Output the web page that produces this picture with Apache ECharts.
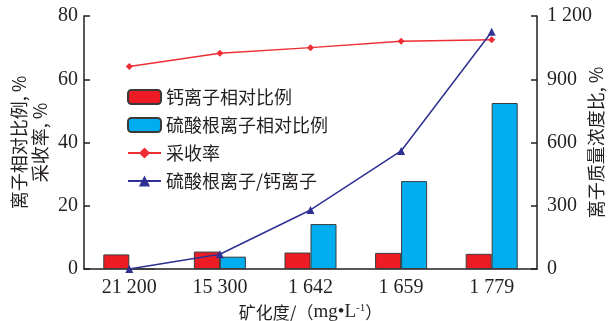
<!DOCTYPE html>
<html>
<head>
<meta charset="utf-8">
<script src="https://cdn.jsdelivr.net/npm/echarts@6/dist/echarts.min.js"></script>
<style>
  html, body { margin: 0; padding: 0; background: #fff; }
  #chart { width: 612px; height: 321px; }
</style>
</head>
<body>
<div id="chart"></div>
<script>
// Salinity categories (mg/L)
const categories = ['21 200', '15 300', '1 642', '1 659', '1 779'];
// Relative proportion of calcium ions, %
const calciumRatio = [4.6, 5.5, 5.2, 5.1, 4.8];
// Relative proportion of sulfate ions, %
const sulfateRatio = [0, 3.9, 14.2, 27.8, 52.5];
// Recovery factor, %
const recovery = [64.0, 68.2, 70.0, 72.0, 72.5];
// Sulfate / calcium mass concentration ratio, %
const sulfateToCalcium = [0, 70, 280, 560, 1125];

const leftTicks = { min: 0, max: 80, interval: 20 };
const rightTicks = { min: 0, max: 1200, interval: 300 };

const serif = '"Liberation Serif", "DejaVu Serif", serif';
const cjk = '"Noto Sans CJK SC", sans-serif';
const axisColor = '#231f20';
const textColor = '#231f20';

function spaced(v) {
  return String(v).replace(/\B(?=(\d{3})+(?!\d))/g, ' ');
}

const chart = echarts.init(document.getElementById('chart'), null, { renderer: 'canvas' });

chart.setOption({
  animation: false,
  backgroundColor: '#fff',
  grid: { left: 84, right: 75, top: 16, bottom: 52, containLabel: false, outerBoundsMode: 'none' },
  legend: {
    orient: 'vertical',
    left: 122,
    top: 83,
    itemWidth: 33,
    itemHeight: 14,
    itemGap: 10,
    textStyle: { fontFamily: cjk, fontSize: 18, color: textColor },
    data: ['钙离子相对比例', '硫酸根离子相对比例', '采收率', '硫酸根离子/钙离子']
  },
  xAxis: {
    type: 'category',
    data: categories,
    boundaryGap: true,
    axisLine: { lineStyle: { color: axisColor, width: 1.5 } },
    axisTick: { inside: true, length: 8, lineStyle: { color: axisColor, width: 1.5 } },
    axisLabel: { fontFamily: serif, fontSize: 20, color: textColor, margin: 9 },
    name: '{a|矿化度/（}{b|mg•L}{s|-1}{a|）}',
    nameLocation: 'middle',
    nameGap: 33,
    nameTextStyle: {
      rich: {
        a: { fontFamily: cjk, fontSize: 17, color: textColor },
        b: { fontFamily: serif, fontSize: 19, color: textColor },
        s: { fontFamily: serif, fontSize: 11, color: textColor, verticalAlign: 'top', padding: [0, 0, 8, 0] }
      }
    }
  },
  yAxis: [
    {
      type: 'value',
      min: leftTicks.min,
      max: leftTicks.max,
      interval: leftTicks.interval,
      splitLine: { show: false },
      axisLine: { show: true, lineStyle: { color: axisColor, width: 1.5 } },
      axisTick: { show: true, inside: true, length: 6, lineStyle: { color: axisColor, width: 1.5 } },
      axisLabel: { fontFamily: serif, fontSize: 20, color: textColor, margin: 6 },
      name: '离子相对比例, %\n采收率, %',
      nameLocation: 'middle',
      nameRotate: 90,
      nameGap: 33,
      nameMoveOverlap: false,
      nameTextStyle: { fontFamily: cjk, fontSize: 18, color: textColor, lineHeight: 21 }
    },
    {
      type: 'value',
      min: rightTicks.min,
      max: rightTicks.max,
      interval: rightTicks.interval,
      splitLine: { show: false },
      axisLine: { show: true, lineStyle: { color: axisColor, width: 1.5 } },
      axisTick: { show: true, inside: true, length: 6, lineStyle: { color: axisColor, width: 1.5 } },
      axisLabel: { fontFamily: serif, fontSize: 20, color: textColor, margin: 10, formatter: spaced },
      name: '离子质量浓度比, %',
      nameLocation: 'middle',
      nameRotate: 90,
      nameGap: 50,
      nameMoveOverlap: false,
      nameTextStyle: { fontFamily: cjk, fontSize: 18, color: textColor }
    }
  ],
  series: [
    {
      name: '钙离子相对比例',
      type: 'bar',
      yAxisIndex: 0,
      data: calciumRatio,
      barWidth: 26,
      barGap: '0%',
      itemStyle: { color: '#ed1c24', borderColor: '#3a3a3a', borderWidth: 1 },
      z: 2
    },
    {
      name: '硫酸根离子相对比例',
      type: 'bar',
      yAxisIndex: 0,
      data: sulfateRatio,
      barWidth: 26,
      barGap: '0%',
      itemStyle: { color: '#00aeef', borderColor: '#3a3a3a', borderWidth: 1 },
      z: 2
    },
    {
      name: '采收率',
      type: 'line',
      yAxisIndex: 0,
      data: recovery,
      symbol: 'diamond',
      symbolSize: 7,
      lineStyle: { color: '#ee2d34', width: 1.5 },
      itemStyle: { color: '#ee2d34' },
      z: 4
    },
    {
      name: '硫酸根离子/钙离子',
      type: 'line',
      yAxisIndex: 1,
      data: sulfateToCalcium,
      symbol: 'triangle',
      symbolSize: 8,
      lineStyle: { color: '#2e3192', width: 1.5 },
      itemStyle: { color: '#2e3192' },
      z: 5
    }
  ]
});
</script>
</body>
</html>
